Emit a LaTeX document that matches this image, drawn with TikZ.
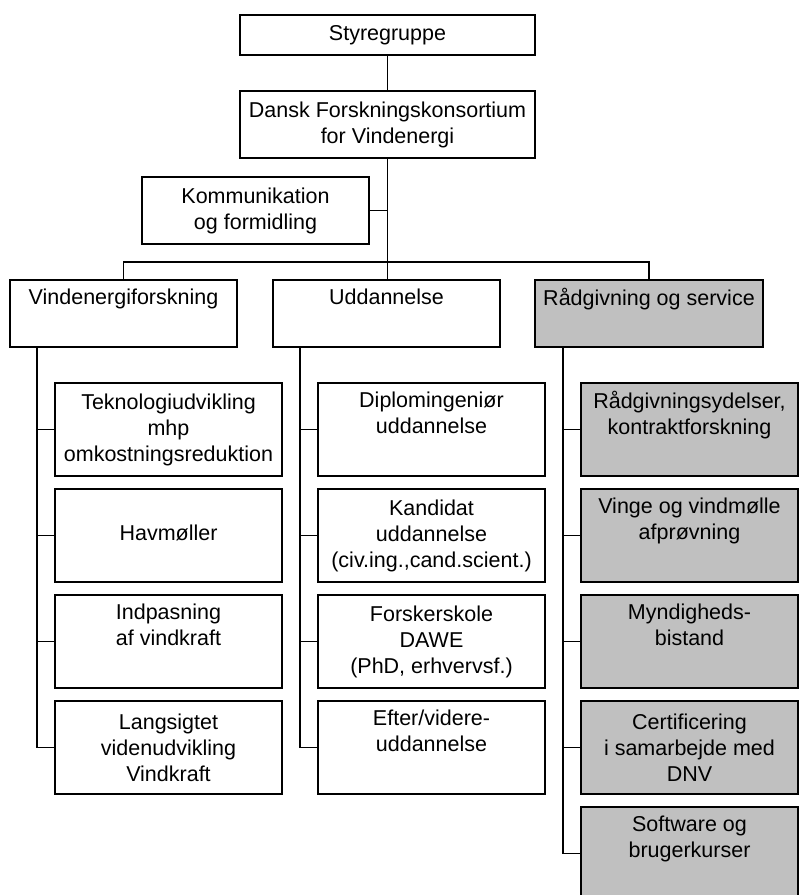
\documentclass[tikz,border=0pt]{standalone}
\usepackage{fontspec}
\setmainfont{Liberation Sans}
\definecolor{boxgray}{RGB}{192,192,192}

\begin{document}
\begin{tikzpicture}[
      x = 1pt, y = -1pt,
      line width = 1.4pt,
      every node/.style = {
        rectangle, draw, black, inner sep = 0pt, align = center,
        font = \fontsize{21.5}{26}\selectfont},
      unit/.style = {minimum width = 227pt, minimum height = 67pt},
      sub/.style = {minimum width = 227pt, minimum height = 93pt},
      grey/.style = {fill = boxgray}
      ]
    \useasboundingbox (0,0) rectangle (799,895);
    \node[minimum width = 295pt, minimum height = 40pt] (sty) at (387.5,35) {Styregruppe}; % 0
    \node[minimum width = 295pt, minimum height = 67pt] (dfv) at (387.5,124.5) {Dansk Forskningskonsortium\\for Vindenergi}; % 1
    \node[unit] (kom) at (255.5,210.5) {Kommunikation\\og formidling}; % 2
    \node[unit] (vind) at (123.5,313.5) {Vindenergiforskning\\\strut}; % 3
    \node[unit] (udd) at (386.5,313.5) {Uddannelse\\\strut}; % 4
    \node[unit, grey, minimum width = 228pt] (rad) at (649,313.5) {Rådgivning og service\\\strut}; % 5
    % vindenergiforskning
    \node[sub] (v1) at (168.5,429.5) {Teknologiudvikling\\mhp\\omkostningsreduktion};
    \node[sub] (v2) at (168.5,535.5) {\strut\\Havmøller\\\strut};
    \node[sub] (v3) at (168.5,641.5) {Indpasning\\af vindkraft\\\strut};
    \node[sub] (v4) at (168.5,747.5) {Langsigtet\\videnudvikling\\Vindkraft};
    % uddannelse
    \node[sub] (u1) at (431.5,429.5) {Diplomingeniør\\uddannelse\\\strut};
    \node[sub] (u2) at (431.5,535.5) {Kandidat\\uddannelse\\(civ.ing.,cand.scient.)};
    \node[sub] (u3) at (431.5,641.5) {Forskerskole\\DAWE\\(PhD, erhvervsf.)};
    \node[sub] (u4) at (431.5,747.5) {Efter/videre-\\uddannelse\\\strut};
    % raadgivning
    \node[sub, grey, minimum width = 217pt] (r1) at (689.5,429.5) {Rådgivningsydelser,\\kontraktforskning\\\strut};
    \node[sub, grey, minimum width = 217pt] (r2) at (689.5,535.5) {Vinge og vindmølle\\afprøvning\\\strut};
    \node[sub, grey, minimum width = 217pt] (r3) at (689.5,641.5) {Myndigheds-\\bistand\\\strut};
    \node[sub, grey, minimum width = 217pt] (r4) at (689.5,747.5) {Certificering\\i samarbejde med\\DNV};
    \node[sub, grey, minimum width = 217pt] (r5) at (689.5,853.5) {Software og\\brugerkurser\\\strut};
    \coordinate (bar) at (387,262);
    \coordinate (vs) at (37,347);
    \coordinate (us) at (300,347);
    \coordinate (rs) at (563,347);
    \draw (sty)--(dfv);
    \draw (dfv.south)--(dfv.south |- udd.north);
    \draw (kom.east)--(kom.east -| dfv.south);
    \draw (vind.north)--(vind.north |- bar)-|(rad.north);
    \draw (vs)|-(v4.west);
    \draw (v1.west)--(v1.west -| vs);
    \draw (v2.west)--(v2.west -| vs);
    \draw (v3.west)--(v3.west -| vs);
    \draw (us)|-(u4.west);
    \draw (u1.west)--(u1.west -| us);
    \draw (u2.west)--(u2.west -| us);
    \draw (u3.west)--(u3.west -| us);
    \draw (rs)|-(r5.west);
    \draw (r1.west)--(r1.west -| rs);
    \draw (r2.west)--(r2.west -| rs);
    \draw (r3.west)--(r3.west -| rs);
    \draw (r4.west)--(r4.west -| rs);
  \end{tikzpicture}
\end{document}
